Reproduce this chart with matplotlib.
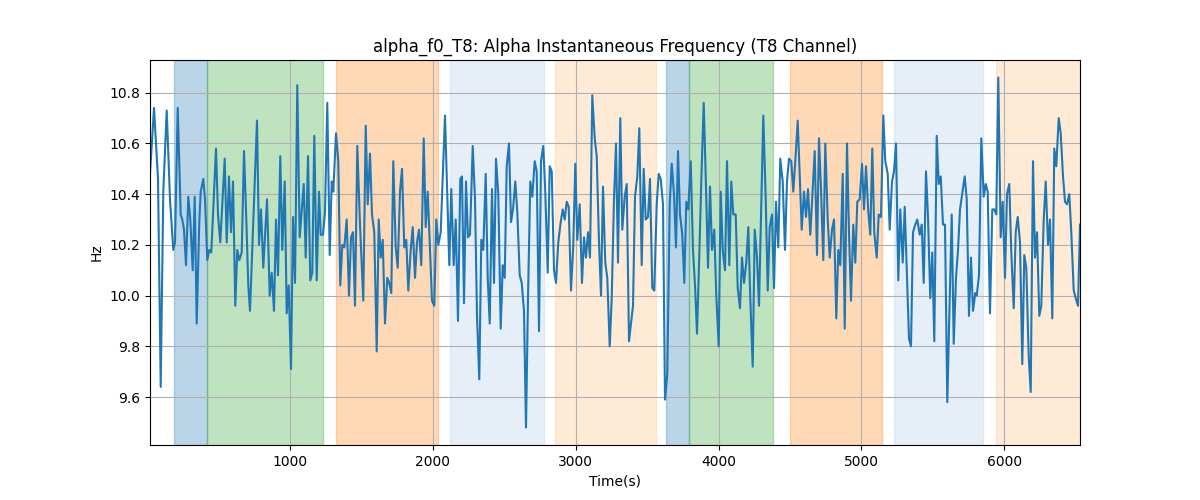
import numpy as np
import matplotlib
matplotlib.use('Agg')
import matplotlib.pyplot as plt

# time (s) and alpha instantaneous frequency (Hz)
time_s = [20, 48, 76, 95, 113, 137, 160, 183, 195, 214, 235, 246, 258, 272, 288, 302, 319, 333, 347, 365,
          375, 393, 405, 421, 435, 449, 482, 496, 512, 543, 557, 573, 587, 601, 617, 631, 645, 662, 678, 697,
          708, 720, 769, 783, 797, 813, 839, 858, 872, 888, 902, 916, 932, 946, 963, 977, 991, 1007, 1021, 1035,
          1051, 1068, 1096, 1110, 1126, 1142, 1156, 1170, 1187, 1203, 1215, 1231, 1245, 1261, 1278, 1292, 1303, 1322, 1338, 1352,
          1366, 1380, 1397, 1413, 1427, 1441, 1455, 1471, 1490, 1513, 1530, 1544, 1560, 1574, 1590, 1607, 1621, 1635, 1649, 1665,
          1681, 1695, 1709, 1723, 1740, 1754, 1770, 1784, 1800, 1814, 1828, 1845, 1859, 1875, 1889, 1903, 1919, 1936, 1950, 1964,
          1980, 1994, 2010, 2024, 2038, 2055, 2085, 2115, 2129, 2146, 2160, 2176, 2192, 2204, 2218, 2232, 2246, 2260, 2279, 2295,
          2309, 2325, 2339, 2353, 2370, 2384, 2398, 2414, 2428, 2442, 2458, 2475, 2489, 2503, 2517, 2533, 2547, 2561, 2577, 2591,
          2608, 2622, 2638, 2652, 2666, 2682, 2696, 2713, 2727, 2743, 2757, 2773, 2787, 2804, 2818, 2832, 2848, 2862, 2878, 2895,
          2909, 2923, 2937, 2951, 2967, 2983, 2997, 3011, 3028, 3044, 3058, 3072, 3086, 3100, 3116, 3133, 3147, 3163, 3177, 3191,
          3207, 3221, 3238, 3252, 3268, 3282, 3296, 3312, 3326, 3343, 3357, 3373, 3387, 3401, 3415, 3431, 3445, 3462, 3476, 3490,
          3506, 3520, 3536, 3550, 3567, 3581, 3595, 3611, 3625, 3641, 3658, 3672, 3688, 3702, 3716, 3730, 3746, 3760, 3774, 3788,
          3805, 3821, 3835, 3849, 3865, 3879, 3896, 3910, 3926, 3940, 3954, 3970, 3984, 4001, 4015, 4029, 4045, 4059, 4075, 4089,
          4103, 4120, 4134, 4150, 4164, 4178, 4194, 4208, 4222, 4239, 4253, 4269, 4283, 4299, 4313, 4330, 4344, 4358, 4374, 4388,
          4402, 4418, 4432, 4449, 4465, 4479, 4493, 4509, 4523, 4537, 4554, 4568, 4582, 4598, 4612, 4626, 4642, 4659, 4673, 4689,
          4703, 4717, 4733, 4747, 4764, 4778, 4794, 4808, 4824, 4838, 4852, 4869, 4883, 4899, 4913, 4927, 4943, 4957, 4971, 4988,
          5004, 5018, 5032, 5048, 5062, 5076, 5090, 5107, 5121, 5137, 5153, 5167, 5184, 5198, 5214, 5228, 5242, 5258, 5272, 5289,
          5303, 5319, 5333, 5347, 5361, 5377, 5391, 5408, 5422, 5436, 5452, 5466, 5482, 5496, 5510, 5527, 5541, 5555, 5571, 5585,
          5601, 5632, 5646, 5662, 5676, 5690, 5723, 5737, 5753, 5767, 5781, 5797, 5807, 5823, 5839, 5856, 5870, 5884, 5900, 5916,
          5930, 5944, 5958, 5975, 5989, 6005, 6019, 6035, 6049, 6066, 6080, 6094, 6110, 6126, 6140, 6154, 6171, 6185, 6201, 6215,
          6229, 6245, 6259, 6276, 6290, 6306, 6320, 6336, 6350, 6364, 6381, 6395, 6411, 6425, 6439, 6455, 6469, 6486, 6500, 6516,
          6530]
freq_hz = [10.48, 10.74, 10.46, 9.64, 10.41, 10.73, 10.38, 10.18, 10.21, 10.74, 10.32, 10.30, 10.26, 10.12, 10.39, 10.30, 10.10, 10.39, 9.89, 10.29,
           10.41, 10.46, 10.38, 10.14, 10.18, 10.17, 10.58, 10.32, 10.21, 10.54, 10.21, 10.47, 10.25, 10.45, 9.96, 10.18, 10.14, 10.17, 10.57, 10.25,
           10.04, 9.94, 10.69, 10.20, 10.34, 10.11, 10.38, 10.00, 10.09, 9.94, 10.30, 10.08, 10.55, 10.18, 10.45, 9.93, 10.04, 9.71, 10.31, 10.05,
           10.83, 10.23, 10.44, 10.15, 10.55, 10.06, 10.09, 10.63, 10.06, 10.41, 10.24, 10.24, 10.33, 10.76, 10.16, 10.45, 10.41, 10.64, 10.53, 10.04,
           10.20, 10.19, 10.30, 10.00, 10.23, 10.25, 9.96, 10.59, 10.28, 9.98, 10.67, 10.36, 10.56, 10.32, 10.25, 9.78, 10.30, 10.15, 10.22, 9.89,
           10.07, 10.05, 10.01, 10.53, 10.19, 10.11, 10.41, 10.50, 10.19, 10.22, 10.02, 10.18, 10.27, 10.07, 10.21, 10.26, 10.12, 10.62, 10.27, 10.41,
           10.18, 9.98, 9.96, 10.30, 10.20, 10.25, 10.71, 10.12, 10.42, 10.12, 10.30, 9.90, 10.46, 10.47, 9.97, 10.45, 10.23, 10.24, 10.59, 10.38,
           9.92, 9.67, 10.22, 10.18, 10.48, 10.07, 9.89, 10.42, 10.05, 10.54, 10.40, 9.87, 10.12, 10.07, 10.51, 10.60, 10.29, 10.34, 10.45, 10.33,
           10.08, 10.05, 9.94, 9.48, 9.99, 10.45, 10.39, 10.53, 10.49, 9.86, 10.53, 10.59, 10.41, 10.09, 10.51, 10.49, 10.10, 10.05, 10.21, 10.29,
           10.34, 10.30, 10.37, 10.35, 10.02, 10.20, 10.52, 10.22, 10.36, 10.05, 10.23, 10.15, 10.25, 10.15, 10.79, 10.62, 10.55, 10.21, 10.00, 10.43,
           10.13, 10.07, 9.80, 9.99, 10.38, 10.60, 10.13, 10.70, 10.26, 10.39, 10.44, 9.82, 9.89, 9.96, 10.39, 10.47, 10.66, 10.12, 10.50, 10.30,
           10.31, 10.46, 10.03, 10.02, 10.36, 10.48, 10.46, 10.36, 9.59, 9.69, 10.36, 10.52, 10.40, 10.19, 10.57, 10.32, 10.24, 10.05, 10.37, 10.34,
           10.53, 10.18, 10.04, 9.85, 10.16, 10.45, 10.76, 10.47, 10.11, 10.43, 10.18, 10.26, 10.00, 9.80, 10.41, 10.18, 10.10, 10.53, 10.12, 10.45,
           10.32, 10.32, 10.03, 9.95, 10.15, 10.05, 10.13, 10.27, 9.99, 9.72, 10.26, 10.15, 9.96, 10.37, 10.71, 10.38, 10.02, 10.27, 10.32, 10.03,
           10.37, 10.19, 10.54, 10.45, 10.18, 10.45, 10.54, 10.53, 10.41, 10.53, 10.69, 10.47, 10.26, 10.41, 10.31, 10.42, 10.24, 10.42, 10.57, 10.16,
           10.62, 10.42, 10.14, 10.60, 10.30, 10.15, 10.26, 10.30, 9.91, 10.18, 10.12, 10.48, 9.87, 10.60, 10.25, 9.98, 10.28, 10.13, 10.37, 10.38,
           10.52, 10.34, 10.51, 10.33, 10.24, 10.58, 10.25, 10.15, 10.32, 10.31, 10.71, 10.53, 10.48, 10.26, 10.45, 10.49, 10.60, 10.06, 10.34, 10.13,
           10.35, 10.07, 9.83, 9.80, 10.25, 10.28, 10.30, 10.24, 10.28, 10.05, 10.49, 10.31, 9.99, 10.17, 9.82, 10.63, 10.44, 10.47, 10.28, 10.28,
           9.58, 10.32, 9.81, 10.07, 10.18, 10.34, 10.47, 10.38, 9.92, 10.15, 9.94, 10.01, 10.00, 10.08, 10.62, 10.39, 10.44, 10.41, 9.93, 10.34,
           10.34, 10.32, 10.86, 10.23, 10.37, 10.07, 10.40, 10.44, 10.17, 9.95, 10.25, 10.31, 10.21, 9.73, 10.16, 10.11, 9.76, 9.62, 10.53, 10.15,
           10.25, 9.92, 9.96, 10.30, 10.45, 10.20, 10.30, 9.91, 10.58, 10.51, 10.70, 10.64, 10.47, 10.37, 10.36, 10.40, 10.25, 10.02, 9.99, 9.96,
           10.28]

# shaded segments: start, end, colour, alpha
span_start = [188, 419, 1322, 2120, 2855, 3632, 3793, 4500, 5228, 5942]
span_end = [419, 1231, 2036, 2778, 3562, 3793, 4381, 5144, 5851, 6540]
span_color = ['C0', 'C2', 'C1', '#aec7e8', '#ffbb78', 'C0', 'C2', 'C1', '#aec7e8', '#ffbb78']
span_alpha = [0.3, 0.3, 0.3, 0.3, 0.3, 0.3, 0.3, 0.3, 0.3, 0.3]

fig, ax = plt.subplots(figsize=(12, 5), dpi=100)

for s, e, c, a in zip(span_start, span_end, span_color, span_alpha):
    ax.axvspan(s, e, color=c, alpha=a)

ax.plot(time_s, freq_hz, color='C0', linewidth=1.5)

ax.set_xlim(time_s[0], time_s[-1])
ax.set_title('alpha_f0_T8: Alpha Instantaneous Frequency (T8 Channel)')
ax.set_xlabel('Time(s)')
ax.set_ylabel('Hz')
ax.grid(True)

fig.savefig('out.png')
